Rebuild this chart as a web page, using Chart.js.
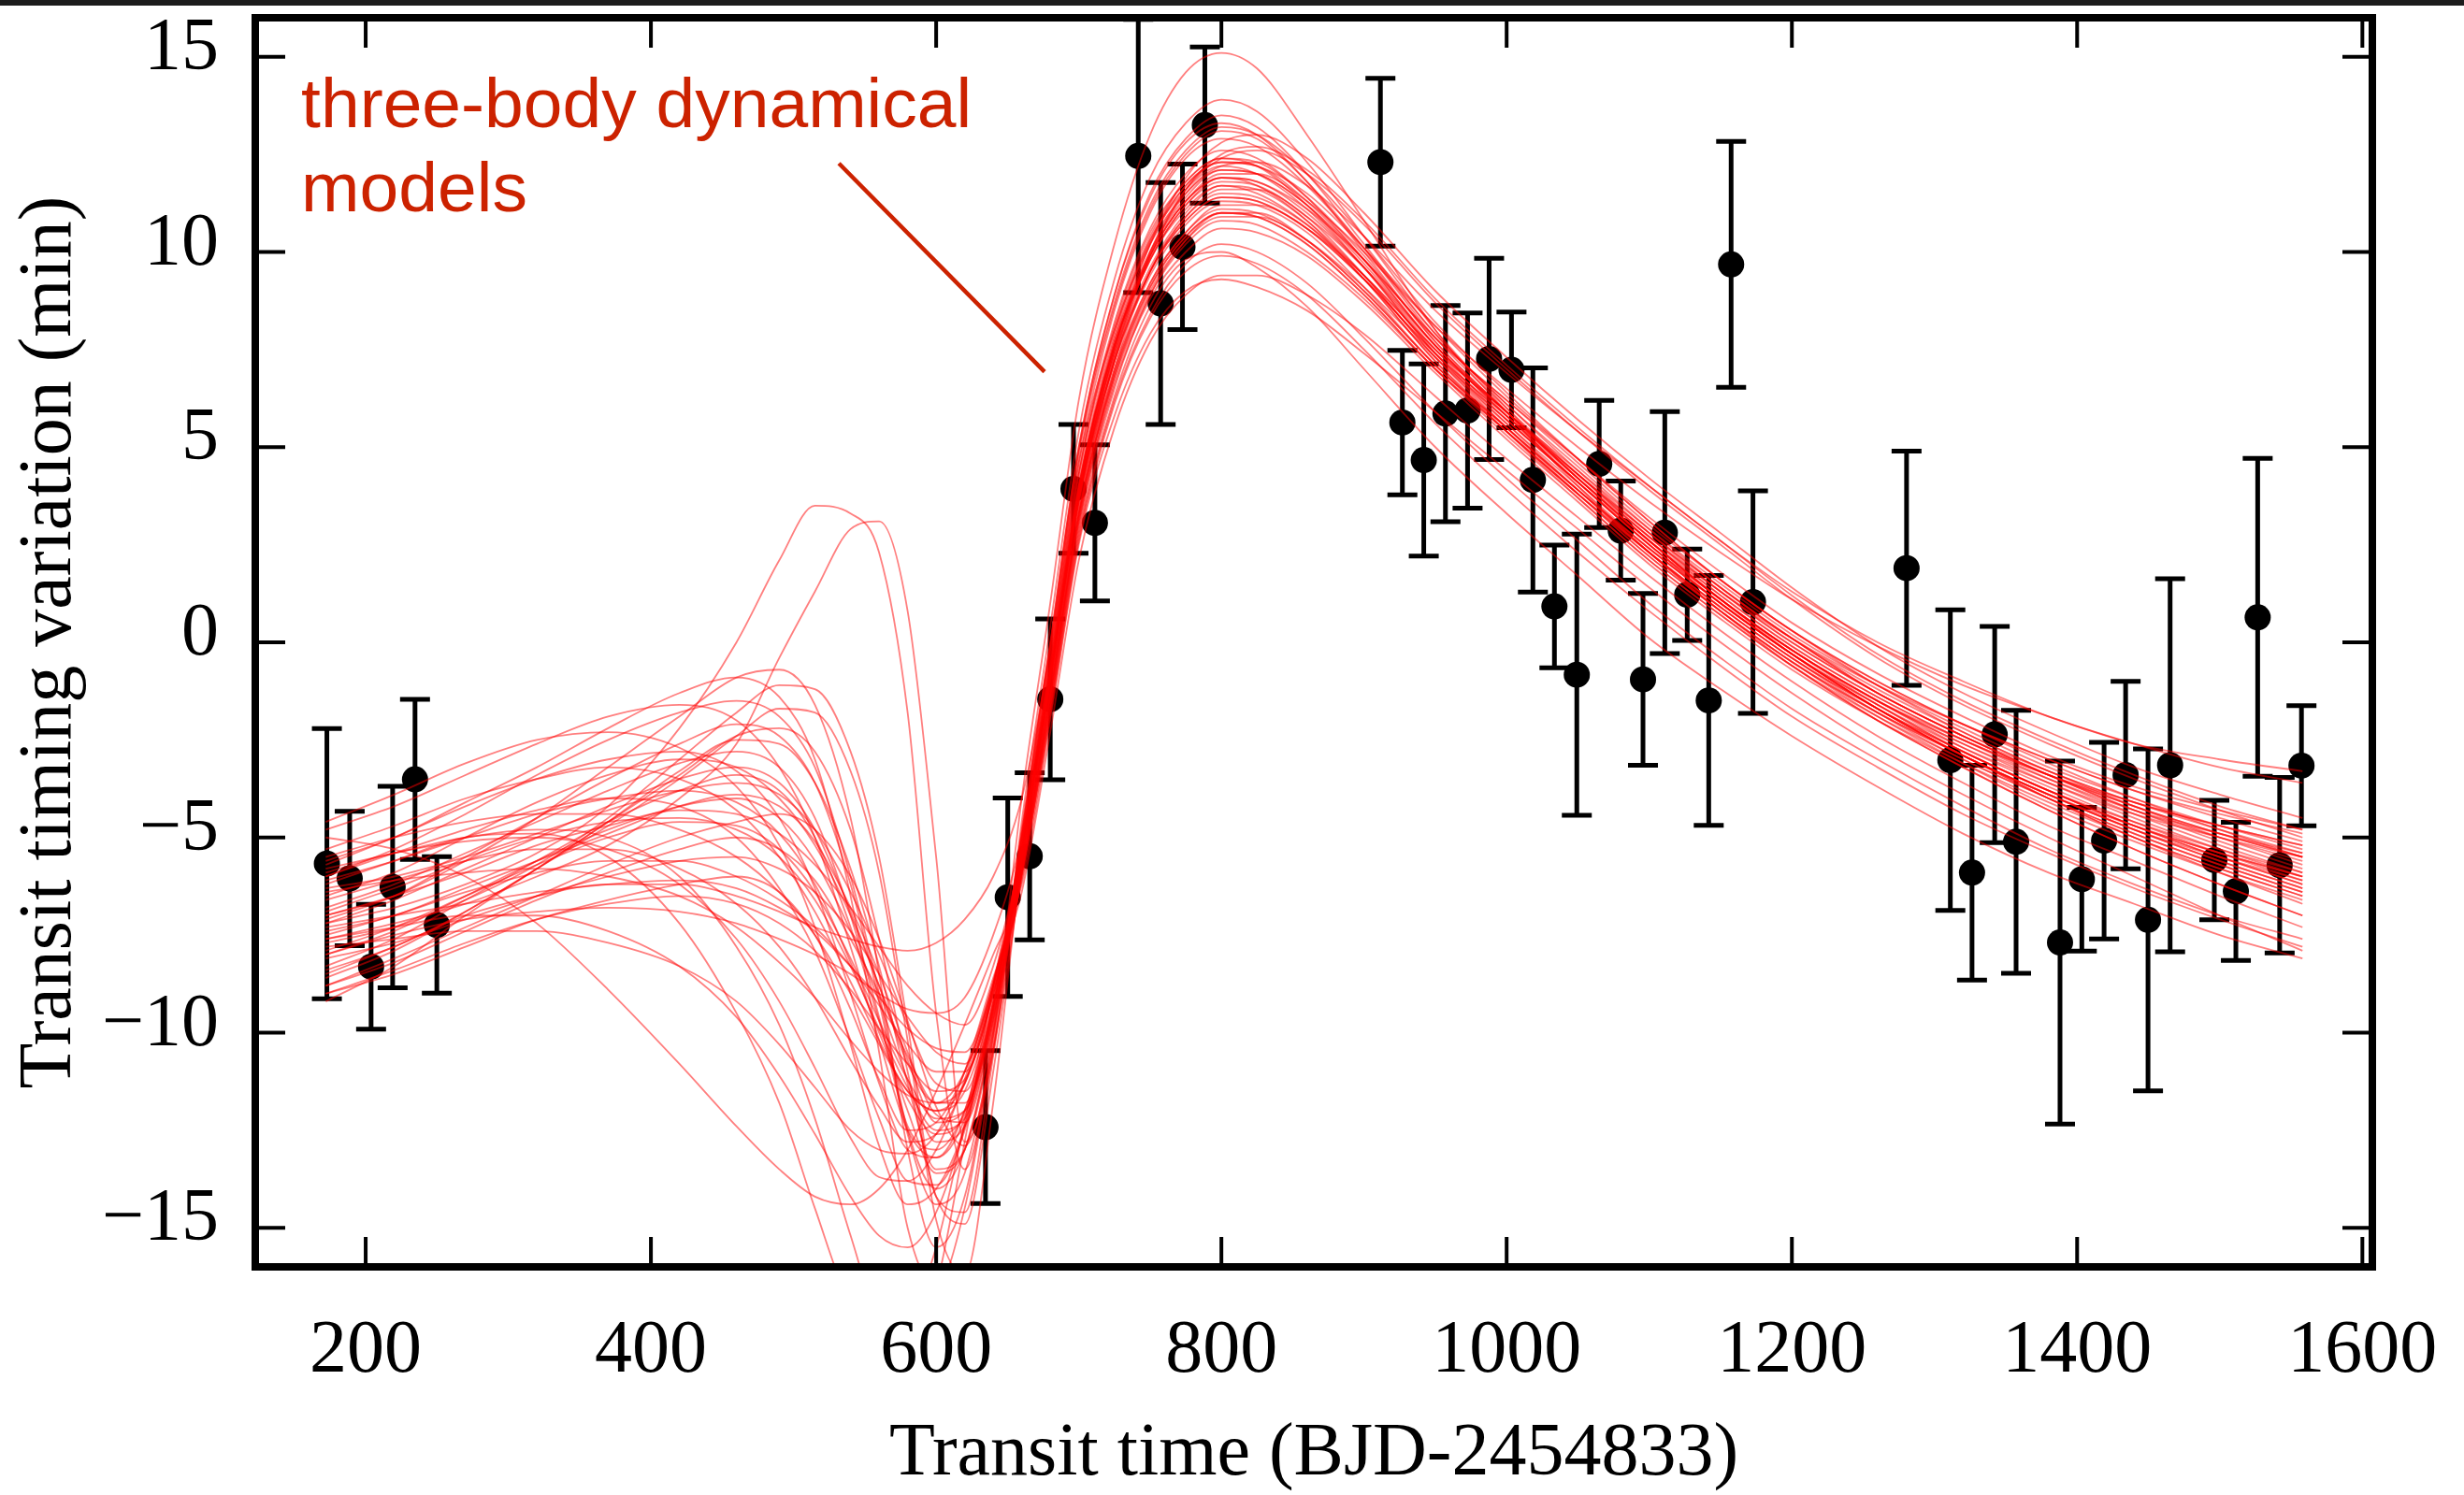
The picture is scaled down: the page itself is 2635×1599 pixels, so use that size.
<!DOCTYPE html>
<html>
<head>
<meta charset="utf-8">
<script src="https://cdn.jsdelivr.net/npm/chart.js@4.4.0/dist/chart.umd.min.js"></script>
<style>
  html, body { margin: 0; padding: 0; background: #fff; }
  #wrap { width: 2635px; height: 1599px; position: relative; }
</style>
</head>
<body>
<div id="wrap"><canvas id="ttv"></canvas></div>
<script>
// measured transits: time (BJD-2454833), TTV (min) and 1-sigma error (min)
const transitTimes = [172.8, 188.8, 203.8, 218.9, 234.6, 249.9, 634.6, 650.2, 665.6, 680.0,
  696.3, 711.3, 741.7, 757.4, 772.7, 788.4, 911.5, 926.9, 941.9, 957.1,
  972.6, 987.7, 1003.4, 1018.4, 1033.5, 1049.2, 1064.9, 1080.0, 1095.6, 1110.9,
  1126.6, 1141.7, 1157.4, 1172.7, 1280.4, 1311.1, 1326.3, 1342.2, 1357.2, 1388.0,
  1403.3, 1418.9, 1434.0, 1449.7, 1465.2, 1496.2, 1511.3, 1526.6, 1542.0, 1557.3];
const ttvValues = [-5.67, -6.05, -8.31, -6.27, -3.51, -7.24, -12.42, -6.53, -5.48, -1.46,
  3.93, 3.06, 12.46, 8.68, 10.13, 13.25, 12.30, 5.63, 4.67, 5.86,
  5.94, 7.26, 6.98, 4.16, 0.92, -0.83, 4.57, 2.86, -0.95, 2.81,
  1.22, -1.49, 9.68, 1.03, 1.90, -3.02, -5.90, -2.36, -5.11, -7.69,
  -6.07, -5.08, -3.40, -7.11, -3.15, -5.58, -6.38, 0.64, -5.71, -3.16];
const ttvErrors = [3.46, 1.72, 1.60, 2.58, 2.05, 1.75, 1.96, 2.54, 2.14, 2.06,
  1.65, 2.00, 3.50, 3.10, 2.12, 2.00, 2.15, 1.85, 2.46, 2.77,
  2.50, 2.58, 1.48, 2.87, 1.57, 3.60, 1.63, 1.27, 2.20, 3.10,
  1.17, 3.20, 3.15, 2.85, 3.00, 3.85, 2.75, 2.77, 3.37, 4.65,
  1.84, 2.52, 2.40, 4.38, 4.78, 1.53, 1.77, 4.07, 2.25, 1.54];

const xTicks = [200, 400, 600, 800, 1000, 1200, 1400, 1600];
const yTicks = [-15, -10, -5, 0, 5, 10, 15];

// three-body model curves, sampled at modelTimes
const modelTimes = [172, 220, 270, 320, 370, 420, 460, 490, 515, 540, 560, 580, 600, 620, 640,
  660, 680, 700, 725, 750, 775, 800, 825, 860, 900, 950, 1000, 1050, 1100, 1150, 1200,
  1260, 1320, 1380, 1440, 1500, 1558];
const models = [
  [-6.5,-5.9,-5.0,-4.1,-3.4,-3.0,-3.2,-4.0,-5.2,-7.0,-8.8,-10.7,-12.3,-12.0,-9.6,-5.4,-0.9,3.8,7.4,9.6,11.0,11.7,11.6,10.8,9.4,7.3,5.6,4.0,2.4,1.0,-0.3,-1.6,-2.7,-3.6,-4.4,-5.0,-5.5],
  [-7.0,-6.5,-5.6,-4.5,-3.2,-1.9,-0.9,-0.7,-1.6,-4.5,-8.5,-13.0,-15.5,-14.2,-10.2,-4.8,0.0,5.0,8.9,11.5,12.9,13.5,13.2,12.0,10.2,7.9,6.1,4.4,2.8,1.3,0.0,-1.3,-2.4,-3.4,-4.3,-5.1,-5.8],
  [-7.5,-7.0,-6.4,-5.9,-5.6,-5.6,-6.0,-6.6,-7.3,-8.3,-9.3,-10.3,-11.0,-11.0,-9.0,-5.8,-1.5,3.1,6.6,8.8,10.0,10.6,10.5,9.9,8.7,6.9,5.2,3.6,2.0,0.6,-0.7,-2.0,-3.1,-4.1,-5.0,-5.8,-6.5],
  [-5.0,-5.3,-6.0,-7.2,-8.9,-10.8,-12.4,-13.5,-14.2,-14.4,-14.0,-13.0,-11.5,-9.8,-8.0,-6.2,-2.0,2.5,5.8,7.9,9.0,9.3,9.1,8.5,7.4,5.9,4.4,2.9,1.4,0.0,-1.3,-2.7,-3.9,-5.0,-6.0,-7.0,-7.9],
  [-8.5,-7.8,-7.0,-6.5,-6.2,-6.2,-6.5,-6.9,-7.3,-7.6,-7.8,-7.9,-7.7,-7.1,-6.0,-4.0,-0.2,4.6,8.0,10.2,11.5,12.1,12.0,11.2,9.8,7.8,6.2,4.7,3.2,1.8,0.5,-0.8,-1.9,-2.9,-3.7,-4.3,-4.8],
  [-7.2,-6.8,-6.2,-5.4,-4.2,-2.2,0.0,2.1,3.5,3.3,2.3,-1.8,-9.5,-13.5,-10.0,-4.0,1.0,6.2,10.2,13.0,14.6,15.1,14.7,13.0,10.8,8.0,5.9,4.0,2.3,0.8,-0.6,-2.0,-3.2,-4.3,-5.3,-6.2,-7.0],
  [-7.6,-7.2,-6.7,-6.0,-5.2,-4.0,-2.6,-0.4,1.3,2.9,3.1,0.8,-5.5,-12.8,-10.5,-4.6,0.4,5.4,9.3,11.9,13.3,13.9,13.6,12.3,10.4,8.0,6.0,4.2,2.6,1.1,-0.3,-1.7,-2.9,-3.9,-4.8,-5.6,-6.3],
  [-6.0,-5.3,-4.4,-3.4,-2.5,-1.8,-1.5,-1.9,-3.2,-6.0,-9.0,-12.5,-14.0,-13.0,-9.8,-5.0,-0.4,4.4,8.2,10.6,12.0,12.6,12.4,11.4,9.8,7.6,5.9,4.3,2.7,1.3,0.1,-1.1,-2.1,-3.0,-3.8,-4.5,-5.1],
  [-8.0,-7.4,-6.5,-5.6,-4.8,-4.2,-4.0,-4.5,-5.6,-7.4,-9.2,-11.2,-12.8,-12.4,-9.7,-5.6,-1.1,3.6,7.2,9.5,10.9,11.6,11.6,10.9,9.6,7.6,5.9,4.2,2.6,1.1,-0.2,-1.5,-2.6,-3.6,-4.5,-5.3,-6.0],
  [-9.2,-8.3,-7.0,-5.8,-4.6,-3.3,-2.5,-2.6,-3.6,-5.8,-8.3,-11.3,-13.5,-13.0,-10.0,-5.6,-1.2,3.6,7.5,10.2,11.9,12.8,13.0,12.4,11.0,9.0,7.3,5.7,4.2,2.8,1.4,-0.1,-1.3,-2.3,-3.2,-3.9,-4.5],
  [-5.5,-5.0,-4.6,-4.4,-4.4,-4.8,-5.5,-6.4,-7.5,-9.0,-10.3,-11.5,-12.0,-11.3,-8.9,-5.9,-1.7,2.9,6.5,8.9,10.3,11.0,11.0,10.3,9.0,7.1,5.4,3.8,2.2,0.8,-0.5,-1.8,-2.9,-3.9,-4.7,-5.4,-6.0],
  [-7.8,-7.6,-7.4,-7.4,-7.7,-8.3,-9.2,-10.3,-11.4,-12.5,-13.0,-13.1,-12.6,-11.0,-8.6,-6.4,-2.3,2.1,5.5,7.7,8.9,9.4,9.4,8.9,7.9,6.3,4.7,3.2,1.7,0.3,-1.0,-2.4,-3.6,-4.7,-5.6,-6.5,-7.3],
  [-6.2,-5.6,-5.0,-4.9,-5.5,-7.2,-9.5,-11.8,-14.5,-17.0,-17.8,-17.3,-15.5,-12.3,-8.8,-5.6,-1.3,3.3,6.9,9.1,10.4,11.0,10.9,10.2,8.9,7.0,5.3,3.7,2.1,0.7,-0.6,-2.0,-3.2,-4.3,-5.3,-6.2,-7.0],
  [-5.8,-5.4,-5.0,-4.8,-5.0,-6.0,-7.8,-9.8,-12.2,-15.2,-17.4,-18.0,-16.5,-12.8,-8.8,-5.3,-0.8,4.0,7.7,10.0,11.4,12.1,12.0,11.2,9.7,7.6,5.8,4.1,2.5,1.1,-0.2,-1.5,-2.6,-3.5,-4.3,-4.9,-5.4],
  [-4.8,-4.2,-3.4,-2.6,-1.9,-1.6,-2.0,-3.2,-5.0,-7.8,-10.2,-12.5,-13.2,-12.0,-9.2,-5.2,-0.6,4.0,7.6,9.9,11.3,12.0,12.0,11.3,10.0,8.1,6.5,5.0,3.6,2.3,1.1,-0.1,-1.1,-1.9,-2.6,-3.0,-3.3],
  [-6.3,-6.0,-5.5,-4.9,-4.3,-3.8,-3.6,-3.9,-4.8,-6.4,-8.0,-9.8,-11.3,-11.5,-9.3,-6.0,-1.7,2.8,6.3,8.6,9.8,10.0,9.6,8.6,7.0,5.0,3.3,1.7,0.1,-1.2,-2.4,-3.7,-4.9,-5.9,-6.7,-7.5,-8.1],
  [-7.3,-7.0,-6.7,-6.4,-6.2,-6.1,-6.3,-6.8,-7.4,-8.3,-9.1,-9.9,-10.4,-10.5,-8.7,-5.5,-1.0,3.7,7.3,9.5,10.8,11.4,11.3,10.6,9.3,7.4,5.8,4.3,2.8,1.4,0.1,-1.2,-2.3,-3.3,-4.1,-4.8,-5.4],
  [-8.8,-8.2,-7.4,-6.6,-5.9,-5.3,-5.0,-5.3,-6.1,-7.6,-9.0,-10.6,-11.8,-11.8,-9.4,-5.2,-0.5,4.3,8.0,10.4,11.8,12.4,12.3,11.4,9.9,7.7,5.9,4.2,2.6,1.1,-0.2,-1.5,-2.7,-3.7,-4.6,-5.4,-6.1],
  [-6.0,-5.4,-4.8,-4.3,-4.0,-4.2,-5.0,-6.3,-7.9,-10.2,-12.2,-13.8,-13.9,-12.5,-9.4,-5.0,-0.2,4.8,8.6,11.1,12.5,13.1,12.9,11.8,10.1,7.8,6.0,4.3,2.7,1.2,-0.1,-1.4,-2.5,-3.5,-4.4,-5.2,-5.9],
  [-7.7,-7.3,-6.6,-5.7,-4.5,-3.0,-1.8,-1.1,-1.2,-2.8,-5.5,-9.8,-14.2,-14.6,-10.6,-5.5,-1.0,3.7,7.5,9.8,11.2,11.9,11.8,11.0,9.6,7.5,5.7,4.1,2.5,1.1,-0.2,-1.5,-2.5,-3.4,-4.1,-4.7,-5.2],
  [-6.6,-6.1,-5.6,-5.3,-5.3,-5.8,-6.7,-7.8,-9.1,-10.7,-11.9,-12.8,-12.6,-11.3,-8.9,-5.7,-1.3,3.4,7.3,10.0,11.6,12.4,12.6,12.0,10.7,8.7,7.0,5.4,3.9,2.5,1.1,-0.4,-1.6,-2.6,-3.5,-4.3,-5.0],
  [-8.3,-7.6,-6.6,-5.6,-4.6,-3.8,-3.4,-3.8,-5.0,-7.3,-9.7,-12.0,-13.6,-13.0,-9.9,-5.9,-1.6,3.0,6.7,8.9,10.2,10.8,10.7,10.0,8.8,7.0,5.4,3.8,2.3,0.9,-0.4,-1.7,-2.8,-3.8,-4.6,-5.3,-5.9],
  [-9.0,-8.4,-7.7,-7.1,-6.7,-6.5,-6.7,-7.2,-7.9,-8.9,-9.9,-10.8,-11.5,-11.2,-9.0,-6.1,-1.9,2.6,6.1,8.3,9.5,9.9,9.7,8.9,7.5,5.6,3.9,2.3,0.8,-0.6,-1.9,-3.2,-4.4,-5.4,-6.3,-7.1,-7.8],
  [-5.3,-4.7,-4.0,-3.5,-3.2,-3.5,-4.3,-5.5,-6.9,-8.7,-10.2,-11.5,-12.0,-11.5,-9.1,-5.1,-0.5,4.3,8.1,10.5,11.8,12.4,12.2,11.2,9.6,7.4,5.7,4.1,2.5,1.0,-0.3,-1.7,-2.9,-3.9,-4.8,-5.6,-6.3],
  [-7.1,-6.5,-5.5,-4.5,-3.5,-2.6,-2.1,-2.4,-3.6,-6.2,-9.2,-12.6,-14.4,-13.6,-10.1,-4.9,-0.1,4.9,8.7,11.2,12.6,13.2,13.0,12.0,10.4,8.2,6.4,4.7,3.1,1.6,0.3,-1.0,-2.1,-3.1,-4.0,-4.8,-5.5],
  [-6.9,-6.3,-5.6,-5.0,-4.6,-4.5,-4.8,-5.5,-6.6,-8.3,-9.9,-11.4,-12.5,-12.2,-9.6,-5.3,-0.7,3.9,7.6,10.0,11.5,12.2,12.3,11.7,10.4,8.5,6.9,5.4,4.0,2.6,1.3,0.0,-1.0,-1.9,-2.6,-3.2,-3.6],
  [-8.0,-7.5,-7.1,-6.9,-6.8,-6.9,-7.2,-7.6,-8.0,-8.5,-9.0,-9.4,-9.5,-9.1,-7.5,-5.0,-0.8,3.7,7.2,9.4,10.7,11.3,11.2,10.5,9.1,7.1,5.5,3.9,2.4,1.0,-0.3,-1.6,-2.8,-3.8,-4.7,-5.5,-6.2],
  [-5.7,-5.0,-4.2,-3.5,-3.0,-2.8,-3.3,-4.5,-6.3,-9.0,-11.3,-13.0,-13.2,-12.2,-9.3,-5.3,-0.8,3.9,7.6,9.9,11.3,11.9,11.7,10.8,9.3,7.2,5.4,3.7,2.1,0.7,-0.6,-1.9,-3.0,-4.0,-4.9,-5.7,-6.4],
  [-7.4,-7.0,-6.3,-5.6,-4.9,-4.2,-3.9,-4.2,-5.1,-6.8,-8.5,-10.5,-12.1,-12.3,-9.7,-5.4,-0.8,3.9,7.8,10.3,11.7,12.3,12.2,11.5,10.1,8.1,6.3,4.7,3.1,1.6,0.3,-1.1,-2.2,-3.2,-4.0,-4.7,-5.3],
  [-6.4,-6.1,-5.9,-5.8,-6.0,-6.5,-7.3,-8.2,-9.1,-10.2,-11.0,-11.6,-11.8,-11.0,-8.8,-5.6,-1.1,3.5,7.0,9.2,10.5,11.2,11.2,10.6,9.4,7.5,5.9,4.3,2.8,1.4,0.1,-1.3,-2.4,-3.4,-4.2,-4.9,-5.5],
  [-8.6,-7.9,-6.9,-5.8,-4.6,-3.4,-2.4,-2.2,-2.8,-4.8,-7.6,-11.0,-14.2,-14.9,-11.0,-5.8,-1.4,3.3,7.2,9.9,11.6,12.5,12.7,12.1,10.8,8.8,7.1,5.5,4.0,2.6,1.2,-0.3,-1.5,-2.5,-3.4,-4.2,-4.8],
  [-7.9,-7.3,-6.5,-5.7,-5.0,-4.6,-4.7,-5.3,-6.4,-8.1,-9.7,-11.2,-12.2,-12.0,-9.5,-6.0,-1.8,2.7,6.2,8.4,9.7,10.2,10.0,9.2,7.8,5.9,4.2,2.6,1.0,-0.4,-1.7,-3.0,-4.2,-5.3,-6.2,-7.0,-7.6],
  [-6.1,-5.6,-5.0,-4.4,-4.0,-3.8,-4.1,-4.9,-6.2,-8.2,-10.0,-11.7,-12.6,-12.1,-9.5,-4.9,0.0,5.0,8.9,11.4,12.8,13.3,13.0,11.8,10.0,7.7,5.9,4.2,2.6,1.1,-0.2,-1.6,-2.8,-3.8,-4.7,-5.5,-6.2],
  [-7.6,-7.3,-7.0,-7.0,-7.4,-8.3,-9.6,-11.1,-12.6,-14.2,-15.2,-15.5,-14.6,-12.4,-9.2,-5.2,-0.6,4.1,7.9,10.3,11.6,12.2,12.0,11.1,9.6,7.4,5.6,3.9,2.3,0.8,-0.5,-1.9,-3.1,-4.2,-5.1,-5.9,-6.6],
  [-5.6,-5.0,-4.1,-3.2,-2.2,-1.3,-0.9,-1.4,-3.0,-6.5,-10.5,-15.0,-16.5,-14.5,-10.4,-5.3,-0.7,4.0,7.6,9.8,11.2,11.8,11.7,10.9,9.4,7.3,5.5,3.8,2.2,0.8,-0.5,-1.8,-2.9,-3.9,-4.8,-5.5,-6.1],
  [-8.1,-7.7,-7.1,-6.5,-6.0,-5.6,-5.5,-5.8,-6.4,-7.4,-8.5,-9.6,-10.5,-10.8,-8.8,-5.7,-1.3,3.3,6.8,9.0,10.3,10.9,10.9,10.3,9.1,7.3,5.7,4.1,2.6,1.2,-0.1,-1.4,-2.5,-3.4,-4.2,-4.9,-5.5],
  [-6.8,-6.2,-5.4,-4.6,-3.8,-3.1,-2.8,-3.2,-4.5,-7.0,-9.6,-12.4,-13.0,-12.0,-9.4,-5.1,-0.3,4.6,8.5,11.0,12.4,12.9,12.7,11.7,10.1,7.9,6.1,4.5,2.9,1.4,0.1,-1.3,-2.4,-3.4,-4.3,-5.0,-5.6],
  [-9.0,-8.5,-7.8,-7.1,-6.6,-6.2,-6.0,-6.4,-7.5,-9.4,-11.2,-12.5,-12.3,-11.0,-8.8,-5.8,-1.4,3.2,6.9,9.2,10.5,11.1,11.0,10.3,9.0,7.1,5.5,3.9,2.4,1.0,-0.3,-1.7,-2.9,-4.0,-5.0,-5.9,-6.7],
  [-4.6,-3.9,-3.1,-2.5,-2.3,-2.7,-3.7,-5.2,-7.3,-10.3,-12.9,-14.4,-14.0,-12.4,-9.3,-5.4,-0.9,3.8,7.5,9.9,11.3,11.9,11.8,11.1,9.8,7.8,6.2,4.6,3.0,1.6,0.3,-1.0,-2.1,-3.0,-3.8,-4.4,-4.9],
  [-7.0,-6.5,-5.9,-5.2,-4.7,-4.3,-4.4,-4.9,-5.7,-6.8,-7.8,-8.8,-9.5,-9.8,-8.3,-5.3,-0.9,3.7,7.4,9.8,11.1,11.7,11.5,10.7,9.3,7.2,5.5,3.9,2.3,0.9,-0.4,-1.7,-2.8,-3.8,-4.7,-5.4,-6.0],
  [-8.4,-7.8,-6.9,-5.8,-4.7,-3.5,-2.4,-1.7,-1.8,-3.3,-5.9,-10.2,-14.8,-16.2,-11.8,-5.6,-1.0,3.8,7.7,10.2,11.7,12.3,12.2,11.3,9.8,7.6,5.8,4.1,2.5,1.0,-0.3,-1.7,-2.9,-4.0,-5.0,-5.8,-6.5],
  [-5.9,-5.4,-5.1,-5.0,-5.3,-6.2,-7.6,-9.2,-10.9,-12.7,-13.7,-13.8,-13.0,-11.2,-8.7,-5.9,-1.6,3.1,6.8,9.1,10.4,11.0,10.9,10.2,8.9,7.0,5.4,3.8,2.3,0.9,-0.4,-1.8,-3.0,-4.0,-4.9,-5.7,-6.4],
  [-7.2,-6.6,-5.8,-5.0,-4.2,-3.5,-3.2,-3.6,-4.8,-6.9,-8.8,-10.8,-11.8,-11.3,-9.0,-5.5,-1.0,3.6,7.2,9.5,10.8,11.4,11.3,10.6,9.3,7.4,5.8,4.2,2.7,1.3,0.0,-1.3,-2.4,-3.3,-4.1,-4.7,-5.2],
  [-8.8,-8.1,-7.3,-6.5,-5.7,-5.0,-4.6,-4.4,-4.8,-6.0,-7.6,-9.7,-11.9,-12.9,-10.4,-5.9,-1.4,3.2,7.0,9.5,10.9,11.5,11.4,10.7,9.4,7.5,5.9,4.4,2.9,1.5,0.2,-1.1,-2.3,-3.3,-4.2,-5.0,-5.7]
];

// label and pointer, in data units
const noteLines = ['three-body dynamical', 'models'];
const noteX = 154.8;
const noteY = [13.2, 11.05];
const pointerFrom = [531.8, 12.27];
const pointerTo = [676, 6.93];

const serif = 'Liberation Serif';
const noteRed = '#cc2200';

const framePlugin = {
  id: 'frame',
  beforeDatasetsDraw(chart) {
    // error bars go under the points and the model curves
    const {ctx, chartArea: a, scales: {x, y}} = chart;
    ctx.save();
    ctx.beginPath();
    ctx.rect(a.left, a.top, a.right - a.left, a.bottom - a.top);
    ctx.clip();
    ctx.strokeStyle = '#000';
    ctx.lineWidth = 5;
    transitTimes.forEach((t, i) => {
      const px = x.getPixelForValue(t);
      const hi = y.getPixelForValue(ttvValues[i] + ttvErrors[i]);
      const lo = y.getPixelForValue(ttvValues[i] - ttvErrors[i]);
      ctx.beginPath();
      ctx.moveTo(px, hi); ctx.lineTo(px, lo);
      ctx.moveTo(px - 16, hi); ctx.lineTo(px + 16, hi);
      ctx.moveTo(px - 16, lo); ctx.lineTo(px + 16, lo);
      ctx.stroke();
    });
    ctx.restore();
  },
  afterDraw(chart) {
    const {ctx, chartArea: a, scales: {x, y}} = chart;
    ctx.save();
    // inward ticks on all four sides
    ctx.strokeStyle = '#000';
    ctx.lineWidth = 4;
    ctx.beginPath();
    xTicks.forEach(v => {
      const px = x.getPixelForValue(v);
      ctx.moveTo(px, a.bottom); ctx.lineTo(px, a.bottom - 32);
      ctx.moveTo(px, a.top); ctx.lineTo(px, a.top + 32);
    });
    yTicks.forEach(v => {
      const py = y.getPixelForValue(v);
      ctx.moveTo(a.left, py); ctx.lineTo(a.left + 32, py);
      ctx.moveTo(a.right, py); ctx.lineTo(a.right - 32, py);
    });
    ctx.stroke();
    // box
    ctx.lineWidth = 8;
    ctx.strokeRect(a.left, a.top, a.right - a.left, a.bottom - a.top);
    // annotation
    ctx.fillStyle = noteRed;
    ctx.font = '75px "Liberation Sans"';
    ctx.textAlign = 'left';
    ctx.textBaseline = 'alphabetic';
    noteLines.forEach((s, i) => ctx.fillText(s, x.getPixelForValue(noteX), y.getPixelForValue(noteY[i])));
    ctx.strokeStyle = noteRed;
    ctx.lineWidth = 4.5;
    ctx.beginPath();
    ctx.moveTo(x.getPixelForValue(pointerFrom[0]), y.getPixelForValue(pointerFrom[1]));
    ctx.lineTo(x.getPixelForValue(pointerTo[0]), y.getPixelForValue(pointerTo[1]));
    ctx.stroke();
    // dark rule along the top edge of the figure
    ctx.fillStyle = '#1c1c1c';
    ctx.fillRect(0, 0, chart.width, 6);
    ctx.restore();
  }
};

// keep the plot box where it is in the figure: no extra room for label overhang
const noOverhang = s => {
  s.paddingTop = 0; s.paddingBottom = 0; s.paddingLeft = 0; s.paddingRight = 0;
};

const modelSets = models.map(m => ({
  data: m.map((v, i) => ({x: modelTimes[i], y: v})),
  borderColor: 'rgba(255, 0, 0, 0.5)',
  borderWidth: 1.8,
  pointRadius: 0,
  cubicInterpolationMode: 'monotone',
  fill: false,
  order: 0
}));

new Chart(document.getElementById('ttv'), {
  type: 'line',
  data: {
    datasets: [
      ...modelSets,
      {
        type: 'scatter',
        data: transitTimes.map((t, i) => ({x: t, y: ttvValues[i]})),
        pointRadius: 14,
        backgroundColor: '#000',
        borderWidth: 0,
        order: 1
      }
    ]
  },
  options: {
    animation: false,
    responsive: true,
    maintainAspectRatio: false,
    devicePixelRatio: 1,
    layout: {padding: {top: 19, right: 98, left: 0, bottom: 0}},
    plugins: {legend: {display: false}, tooltip: {enabled: false}},
    scales: {
      x: {
        type: 'linear',
        min: 122.6,
        max: 1607,
        afterBuildTicks: s => { s.ticks = xTicks.map(v => ({value: v})); },
        afterFit: s => { s.height = 244; noOverhang(s); },
        grid: {display: false, drawTicks: false},
        border: {display: false},
        ticks: {font: {family: serif, size: 80}, color: '#000', padding: 43, maxRotation: 0, autoSkip: false,
          callback: v => String(v)},
        title: {display: true, text: 'Transit time (BJD-2454833)', color: '#000',
          font: {family: serif, size: 80, lineHeight: 1}, padding: {top: 0, bottom: 3}}
      },
      y: {
        type: 'linear',
        min: -16,
        max: 16,
        afterBuildTicks: s => { s.ticks = yTicks.map(v => ({value: v})); },
        afterFit: s => { s.width = 273; noOverhang(s); },
        grid: {display: false, drawTicks: false},
        border: {display: false},
        ticks: {font: {family: serif, size: 80}, color: '#000', padding: 39, labelOffset: -8,
          callback: v => String(v).replace('-', '\u2212')},
        title: {display: true, text: 'Transit timing variation (min)', color: '#000',
          font: {family: serif, size: 80, lineHeight: 1}, padding: {top: 14, bottom: 0}}
      }
    }
  },
  plugins: [framePlugin]
});
</script>
</body>
</html>
